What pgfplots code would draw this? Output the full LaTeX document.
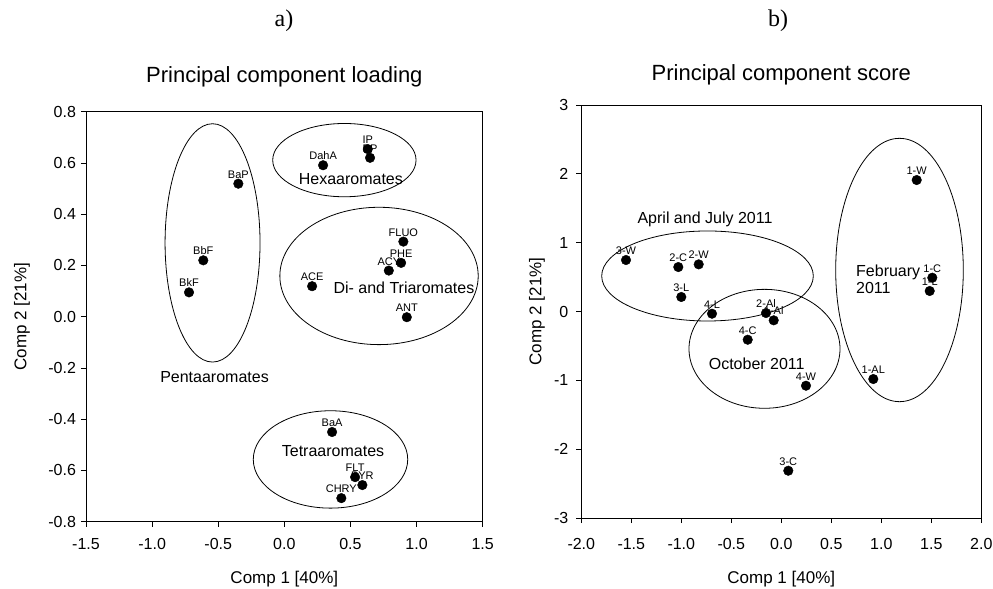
\documentclass[border=0pt]{standalone}
\usepackage{fontspec}
\setmainfont{Liberation Sans}
\newfontfamily\seriffont{Liberation Serif}
\usepackage{pgfplots}
\usepackage{pgfplotstable}
\pgfplotsset{compat=1.18}
\newcommand\fs[1]{\fontsize{#1bp}{#1bp}\selectfont}

\pgfplotstableread{
x y label
0.631 0.654 IP
0.648 0.620 BP
0.293 0.591 DahA
-0.348 0.519 BaP
-0.613 0.220 BbF
-0.721 0.095 BkF
0.900 0.293 FLUO
0.883 0.210 PHE
0.790 0.180 ACY
0.210 0.119 ACE
0.926 -0.002 ANT
0.361 -0.450 BaA
0.535 -0.626 FLT
0.590 -0.657 PYR
0.431 -0.708 CHRY
}\loadings

\pgfplotstableread{
x y label
1.354 1.910 1-W
1.510 0.491 1-C
1.484 0.298 1-L
0.920 -0.981 1-AL
-1.553 0.748 3-W
-1.030 0.646 2-C
-0.826 0.685 2-W
-1.000 0.211 3-L
-0.693 -0.032 4-L
-0.153 -0.022 2-Al
-0.076 -0.128 1-Al
-0.336 -0.410 4-C
0.247 -1.078 4-W
0.070 -2.313 3-C
}\scores

\pgfplotsset{pcaaxis/.style={
  scale only axis,
  clip=false,
  axis line style={line width=0.8bp},
  tick style={line width=0.8bp, black},
  tick align=outside,
  tick pos=left,
  major tick length=5bp,
  tick label style={font=\fs{16}},
  /pgf/number format/assume math mode=true,
  label style={font=\fs{17}},
  title style={font=\fs{22}},
}}
\pgfplotsset{pcapts/.style={
  only marks, mark=*, mark size=4.8bp, black,
  mark options={fill=black, draw=black},
  nodes near coords,
  point meta=explicit symbolic,
  every node near coord/.style={anchor=base, yshift=5.5bp, inner sep=0pt, font=\fs{11}, black},
}}

\begin{document}
\begin{tikzpicture}
\path[use as bounding box] (0bp,0bp) rectangle (993bp,-589bp);
\node[font=\seriffont\fs{24}, anchor=base] at (284bp,-26bp) {a)};
\node[font=\seriffont\fs{24}, anchor=base] at (778bp,-26bp) {b)};

\begin{axis}[pcaaxis,
  at={(86bp,-521.7bp)}, anchor=south west,
  width=396.7bp, height=410bp,
  xmin=-1.5, xmax=1.5, ymin=-0.8, ymax=0.8,
  xtick={-1.5,-1,-0.5,0,0.5,1,1.5},
  ytick={-0.8,-0.6,-0.4,-0.2,0,0.2,0.4,0.6,0.8},
  xticklabel style={yshift=-8bp, /pgf/number format/.cd, fixed, fixed zerofill, precision=1},
  yticklabel style={xshift=-1.5bp, /pgf/number format/.cd, fixed, fixed zerofill, precision=1},
  title={Principal component loading},
  title style={at={(0.5,1)}, anchor=base, yshift=23.4bp},
  xlabel={Comp 1 [40\%]},
  xlabel style={at={(axis description cs:0.5,0)}, anchor=center, yshift=-57bp},
  ylabel={Comp 2 [21\%]},
  ylabel style={at={(axis description cs:-0.1613,0.5)}, anchor=center},
]
\addplot[pcapts] table[x=x, y=y, meta=label] {\loadings};
\draw[line width=0.8bp] (axis cs:-0.543,0.288) ellipse [x radius=0.359, y radius=0.465];
\draw[line width=0.8bp] (axis cs:0.454,0.611) ellipse [x radius=0.542, y radius=0.143];
\draw[line width=0.8bp] (axis cs:0.716,0.159) ellipse [x radius=0.750, y radius=0.268];
\draw[line width=0.8bp] (axis cs:0.349,-0.557) ellipse [x radius=0.584, y radius=0.190];
\node[font=\fs{16}] at (axis cs:0.503,0.536) {Hexaaromates};
\node[font=\fs{16}] at (axis cs:0.904,0.113) {Di- and Triaromates};
\node[font=\fs{16}] at (axis cs:-0.528,-0.237) {Pentaaromates};
\node[font=\fs{16}] at (axis cs:0.368,-0.523) {Tetraaromates};
\end{axis}

\begin{axis}[pcaaxis,
  at={(581.3bp,-518bp)}, anchor=south west,
  width=400bp, height=413bp,
  xmin=-2, xmax=2, ymin=-3, ymax=3,
  xtick={-2,-1.5,-1,-0.5,0,0.5,1,1.5,2},
  ytick={-3,-2,-1,0,1,2,3},
  xticklabel style={yshift=-12bp, /pgf/number format/.cd, fixed, fixed zerofill, precision=1},
  yticklabel style={xshift=-4.5bp, /pgf/number format/.cd, fixed, precision=0},
  title={Principal component score},
  title style={at={(0.5,1)}, anchor=base, yshift=18.7bp},
  xlabel={Comp 1 [40\%]},
  xlabel style={at={(axis description cs:0.5,0)}, anchor=center, yshift=-61bp},
  ylabel={Comp 2 [21\%]},
  ylabel style={at={(axis description cs:-0.1108,0.5)}, anchor=center},
]
\addplot[pcapts] table[x=x, y=y, meta=label] {\scores};
\draw[line width=0.8bp] (axis cs:-0.738,0.516) ellipse [x radius=1.058, y radius=0.654];
\draw[line width=0.8bp] (axis cs:-0.168,-0.542) ellipse [x radius=0.755, y radius=0.864];
\draw[line width=0.8bp] (axis cs:1.182,0.603) ellipse [x radius=0.638, y radius=1.913];
\node[font=\fs{16}] at (axis cs:-0.763,1.344) {April and July 2011};
\node[font=\fs{16}] at (axis cs:-0.246,-0.763) {October 2011};
\node[font=\fs{16}, anchor=west, align=left, inner sep=0pt] at (axis cs:0.747,0.462) {February\\[1bp]2011};
\end{axis}
\end{tikzpicture}
\end{document}
